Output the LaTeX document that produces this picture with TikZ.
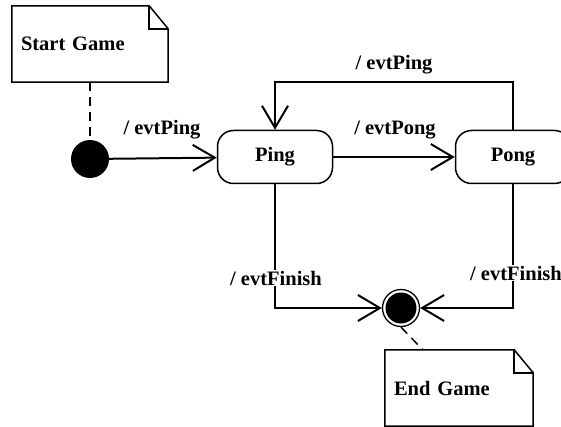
\documentclass[tikz,border=0pt]{standalone}
\usepackage{fontspec}
\setmainfont{Liberation Serif}
\usetikzlibrary{arrows.meta}
\begin{document}
\begin{tikzpicture}[x=1pt,y=-1pt,
 every node/.style={font=\fontsize{20.5}{24}\selectfont\bfseries},
 st/.style={draw, line width=1.5pt, rounded corners=16pt, minimum width=115pt, minimum height=53pt, inner sep=0pt},
 tr/.style={line width=2pt, -{Straight Barb[length=22pt,width=26pt,line width=2pt]}},
 lbl/.style={inner sep=1pt},
 notebox/.style={minimum height=76pt, inner sep=0pt, align=left},
 noteline/.style={line width=1.5pt, line join=miter},
 anch/.style={line width=1.5pt, dash pattern=on 9pt off 6pt}]
\useasboundingbox (0,0) rectangle (561,427);
% notes
\node[notebox, minimum width=156pt, text width=138pt] (startnote) at (90,44) {Start Game};
\draw[noteline] (startnote.north west) -- ([xshift=-19pt]startnote.north east) -- ([yshift=-23pt]startnote.north east) -- (startnote.south east) -- (startnote.south west) -- cycle;
\draw[noteline] ([xshift=-19pt]startnote.north east) |- ([yshift=-23pt]startnote.north east);
\node[notebox, minimum width=148pt, text width=130pt] (endnote) at (459,388) {End Game};
\draw[noteline] (endnote.north west) -- ([xshift=-19pt]endnote.north east) -- ([yshift=-23pt]endnote.north east) -- (endnote.south east) -- (endnote.south west) -- cycle;
\draw[noteline] ([xshift=-19pt]endnote.north east) |- ([yshift=-23pt]endnote.north east);
% states
\node[circle, fill=black, minimum size=38pt, inner sep=0pt] (init) at (90,159) {};
\node[st] (ping) at (275,157) {Ping};
\node[st] (pong) at (513,157) {Pong};
\node[circle, draw, line width=1.3pt, minimum size=37pt, inner sep=0pt] (final) at (401,308) {};
\fill (final.center) circle (15.5pt);
% anchors
\draw[anch] (startnote.south) -- (init.north);
\draw[anch] (final.south) -- ([xshift=38pt]endnote.north west);
% transitions
\draw[tr] (init) -- (ping);
\draw[tr] (ping) -- (pong);
\draw[tr] (pong.north) -- ++(0,-48) -| (ping.north);
\draw[tr] (ping.south) |- (final);
\draw[tr] (pong.south) |- (final);
% labels
\node[lbl] (l1) at (162,130) {/ evtPing};
\node[lbl] (l2) at (395,130) {/ evtPong};
\node[lbl] (l3) at (394,65) {/ evtPing};
\node[lbl, fill=white] (l4) at (276,278) {/ evtFinish};
\node[lbl, fill=white] (l5) at (516,273) {/ evtFinish};
\end{tikzpicture}
\end{document}
